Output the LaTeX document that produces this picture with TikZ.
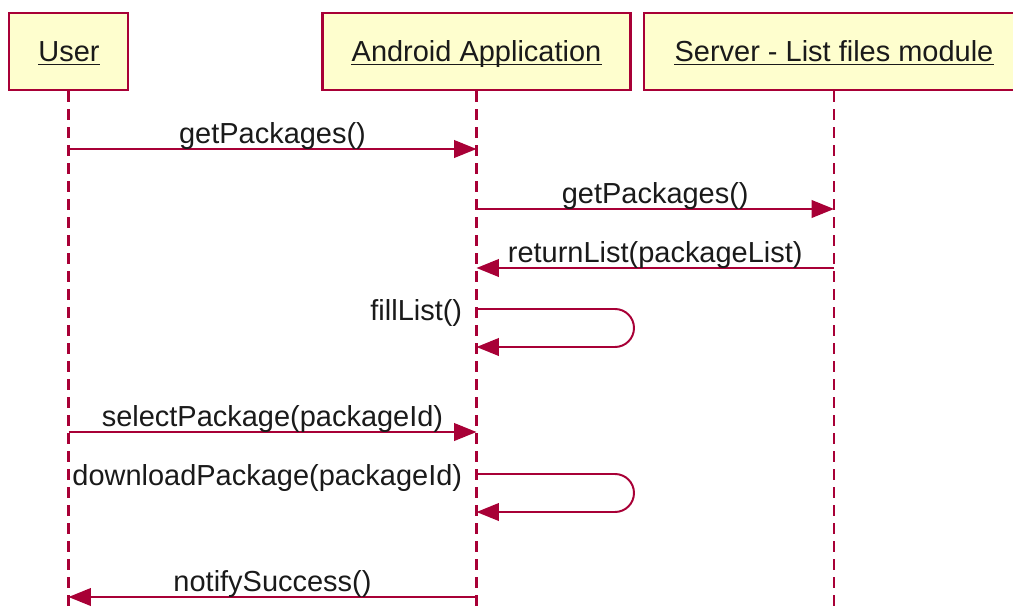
\documentclass[tikz,border=0pt]{standalone}
\usepackage{fontspec}
\setmainfont{Liberation Sans}
\usetikzlibrary{arrows.meta}
\definecolor{umlred}{HTML}{A80036}
\definecolor{umlfill}{HTML}{FEFECE}
\definecolor{umltext}{HTML}{1A1A1A}
\newcommand{\diagfont}{\fontsize{20.6}{24}\selectfont}
\tikzset{
  participant/.style={draw=umlred, fill=umlfill, line width=1.5pt, inner sep=0pt},
  headlabel/.style={anchor=base, inner sep=0pt, font=\diagfont, text=umltext},
  underln/.style={draw=umltext, line width=1.1pt},
  lifeline/.style={draw=umlred, line width=1.7pt, dash pattern=on 7.8pt off 5pt},
  msg/.style={draw=umlred, line width=1.4pt, -{Triangle[length=0.56cm,width=0.44cm]}},
  selfmsg/.style={msg, rounded corners=0.475cm},
  lbl/.style={anchor=base, inner sep=0pt, yshift=3.6pt, font=\diagfont, text=umltext},
  selflbl/.style={anchor=base east, inner sep=0pt, xshift=-10pt, yshift=-8.5pt, font=\diagfont, text=umltext}
}
\begin{document}
\begin{tikzpicture}[x=0.025cm, y=-0.025cm]
\useasboundingbox (0,0) rectangle (1013,612);
\clip (0,0) rectangle (1013,612);

% participant boxes
\node[participant, minimum width=119*0.025cm, minimum height=77*0.025cm] (userBox) at (68.5,51.5) {};
\node[participant, minimum width=308*0.025cm, minimum height=77*0.025cm] (appBox) at (476.5,51.5) {};
\node[participant, minimum width=380*0.025cm, minimum height=77*0.025cm] (srvBox) at (834,51.5) {};

% participant names, underlined
\node[headlabel] (userLbl) at (69,61) {User};
\node[headlabel] (appLbl) at (476.5,61) {Android Application};
\node[headlabel] (srvLbl) at (834,61) {Server - List files module};
\draw[underln] ([yshift=-2.6pt]userLbl.base west) -- ([yshift=-2.6pt]userLbl.base east);
\draw[underln] ([yshift=-2.6pt]appLbl.base west) -- ([yshift=-2.6pt]appLbl.base east);
\draw[underln] ([yshift=-2.6pt]srvLbl.base west) -- ([yshift=-2.6pt]srvLbl.base east);

% lifelines
\coordinate (userEnd) at (68.5,620);
\coordinate (appEnd) at (476.5,620);
\coordinate (srvEnd) at (834,620);
\draw[lifeline] (userBox.south) -- (userEnd);
\draw[lifeline] (appBox.south) -- (appEnd);
\draw[lifeline] (srvBox.south) -- (srvEnd);

% message anchor points on the lifelines
\coordinate (u1) at (68.5,149);   \coordinate (a1) at (476.5,149);
\coordinate (a2) at (476.5,209);  \coordinate (s2) at (834,209);
\coordinate (s3) at (834,268);    \coordinate (a3) at (476.5,268);
\coordinate (a4) at (476.5,309);  \coordinate (a4r) at (476.5,347);
\coordinate (u5) at (68.5,432);   \coordinate (a5) at (476.5,432);
\coordinate (a6) at (476.5,474);  \coordinate (a6r) at (476.5,512);
\coordinate (a7) at (476.5,597);  \coordinate (u7) at (68.5,597);

% messages
\draw[msg] (u1) -- node[lbl] {getPackages()} (a1);
\draw[msg] (a2) -- node[lbl] {getPackages()} (s2);
\draw[msg] (s3) -- node[lbl] {returnList(packageList)} (a3);
\node[selflbl] (fillLbl) at (a4) {fillList()};
\draw[selfmsg] (a4) -- (a4 -| 634,0) -- (a4r -| 634,0) -- (a4r);
\draw[msg] (u5) -- node[lbl] {selectPackage(packageId)} (a5);
\node[selflbl] (dlLbl) at (a6) {downloadPackage(packageId)};
\draw[selfmsg] (a6) -- (a6 -| 634,0) -- (a6r -| 634,0) -- (a6r);
\draw[msg] (a7) -- node[lbl] {notifySuccess()} (u7);
\end{tikzpicture}
\end{document}
